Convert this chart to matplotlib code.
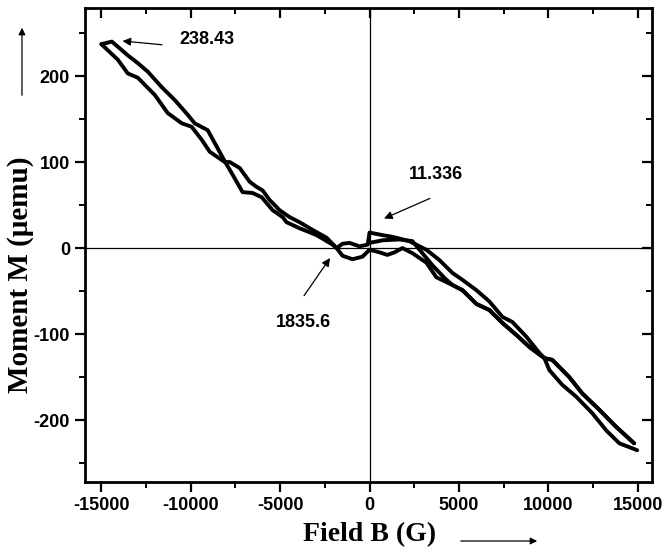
import matplotlib
matplotlib.use('Agg')
import matplotlib.pyplot as plt
from matplotlib.ticker import MultipleLocator

plt.rcParams['axes.unicode_minus'] = False

# virgin curve, starts at B = 0
virgin_b = [0, 730, 1680, 2400, 2960, 3520, 4200, 4640, 5200, 5980, 6700, 7430,
            8210, 8940, 9780, 10220, 11170, 11900, 12850, 13800, 14800]
virgin_m = [6, 9, 10, 8, -6, -20, -35, -43, -49, -65, -72, -87,
            -101, -115, -128, -130, -150, -169, -188, -208, -227]

# branch going from +15000 G down to -15000 G
down_b = [14800, 13800, 12850, 11900, 11170, 10220, 9780, 8940, 8210, 7430, 6700,
          5980, 5200, 4640, 3740, 3180, 2400, 1840, 1400, 1000, 560, 0, -390,
          -950, -1510, -1840, -2070, -2960, -3910, -4640, -4860, -5420, -6030,
          -6540, -7100, -7650, -8100, -9050, -9780, -10170, -10890, -11620,
          -12400, -12960, -13520, -14410, -15000]
down_m = [-227, -208, -188, -169, -150, -130, -128, -115, -101, -87, -72,
          -65, -49, -43, -34, -17, -6, 0, -5, -8, -5, -2, -10,
          -13, -9, 0, 4, 15, 23, 30, 36, 44, 59,
          64, 65, 85, 101, 137, 145, 155, 172, 187,
          205, 215, 224, 240, 237]

# branch going from -15000 G back up to +15000 G
up_b = [-15000, -14080, -13520, -12960, -12010, -11290, -10500, -9950, -9390,
        -8940, -8100, -7820, -7260, -6700, -6310, -5980, -5590, -5030, -4470,
        -3910, -3180, -2400, -1840, -1510, -1120, -560, -100, 0, 730, 1290,
        2230, 3180, 3910, 4640, 5200, 5980, 6700, 7430, 7990, 8770, 9500,
        9780, 10060, 10780, 11570, 12460, 13240, 13970, 14970]
up_m = [237, 219, 203, 198, 178, 157, 145, 141, 126,
        112, 100, 100, 93, 77, 71, 67, 56, 44, 36,
        30, 21, 12, 0, 5, 6, 2, 4, 18, 15, 13,
        8, -2, -14, -29, -37, -49, -62, -80, -86, -103, -122,
        -128, -142, -159, -173, -192, -212, -227, -235]

# labels: (text, text position, arrow tail, arrow tip)
notes = [
    ('238.43', (-9100, 243), (-11450, 236), (-13970, 241)),
    ('11.336', (3740, 86), (3520, 59), (670, 33)),
    ('1835.6', (-3690, -86), (-3750, -58), (-2120, -9)),
]

fig = plt.figure(figsize=(6.66, 5.55), dpi=100)
ax = fig.add_axes([0.128, 0.1315, 0.851, 0.854])

for b, m in [(virgin_b, virgin_m), (down_b, down_m), (up_b, up_m)]:
    ax.plot(b, m, color='black', lw=2.8, solid_joinstyle='round',
            solid_capstyle='round')

ax.axhline(0, color='black', lw=0.9, zorder=1)
ax.axvline(0, color='black', lw=0.9, zorder=1)

ax.set_xlim(-15900, 15800)
ax.set_ylim(-272, 279)
ax.xaxis.set_major_locator(MultipleLocator(5000))
ax.xaxis.set_minor_locator(MultipleLocator(2500))
ax.yaxis.set_major_locator(MultipleLocator(100))
ax.yaxis.set_minor_locator(MultipleLocator(50))
ax.tick_params(which='major', direction='out', length=7, width=1.6, pad=4)
ax.tick_params(which='minor', direction='out', length=4, width=1.4)
for lab in ax.get_xticklabels() + ax.get_yticklabels():
    lab.set_family('Liberation Sans')
    lab.set_weight('bold')
    lab.set_size(13)
for sp in ax.spines.values():
    sp.set_linewidth(2)

# inward ticks on the top and right spines
top = ax.secondary_xaxis('top')
top.xaxis.set_major_locator(MultipleLocator(5000))
top.xaxis.set_minor_locator(MultipleLocator(2500))
top.tick_params(which='major', direction='in', length=7, width=1.6, labeltop=False)
top.tick_params(which='minor', direction='in', length=4, width=1.4)
right = ax.secondary_yaxis('right')
right.yaxis.set_major_locator(MultipleLocator(100))
right.yaxis.set_minor_locator(MultipleLocator(50))
right.tick_params(which='major', direction='in', length=7, width=1.6, labelright=False)
right.tick_params(which='minor', direction='in', length=4, width=1.4)

for txt, pos, tail, tip in notes:
    ax.text(pos[0], pos[1], txt, ha='center', va='center', family='Liberation Sans',
            weight='bold', size=13)
    ax.annotate('', xy=tip, xytext=tail,
                arrowprops=dict(arrowstyle='-|>', color='black', lw=0.9,
                                mutation_scale=12))

fig.text(0.031, 0.505, 'Moment M (\u03bcemu)', rotation=90, ha='center', va='center',
         family='Liberation Serif', weight='bold', size=21)
fig.text(370 / 666, 0.036, 'Field B (G)', ha='center', va='center',
         family='Liberation Serif', weight='bold', size=20)

ax.annotate('', xy=(0.033, 1 - 25 / 555), xytext=(0.033, 1 - 98 / 555),
            xycoords='figure fraction', textcoords='figure fraction',
            arrowprops=dict(arrowstyle='-|>', color='black', lw=0.9, mutation_scale=10))
ax.annotate('', xy=(540 / 666, 1 - 541 / 555), xytext=(458 / 666, 1 - 541 / 555),
            xycoords='figure fraction', textcoords='figure fraction',
            arrowprops=dict(arrowstyle='-|>', color='black', lw=0.9, mutation_scale=10))

fig.savefig('out.png', dpi=100)
